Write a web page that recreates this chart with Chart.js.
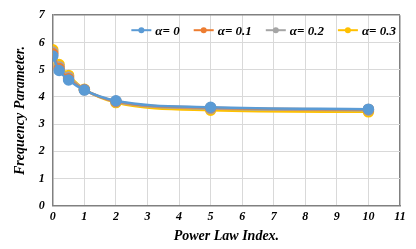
<!DOCTYPE html>
<html>
<head>
<meta charset="utf-8">
<script src="https://cdn.jsdelivr.net/npm/chart.js@4/dist/chart.umd.min.js"></script>
<style>
  html, body { margin: 0; padding: 0; background: #fff; }
  #wrap { width: 416px; height: 249px; }
</style>
</head>
<body>
<div id="wrap"><canvas id="chart" width="416" height="249"></canvas></div>
<script>
  /* ── Data ────────────────────────────────────────────────── */
  var powerIndex = [0, 0.2, 0.5, 1, 2, 5, 10];
  var alpha0  = [5.50, 4.97, 4.62, 4.25, 3.86, 3.62, 3.55];
  var alpha01 = [5.58, 5.04, 4.67, 4.26, 3.84, 3.60, 3.54];
  var alpha02 = [5.65, 5.11, 4.73, 4.27, 3.82, 3.57, 3.51];
  var alpha03 = [5.73, 5.19, 4.79, 4.28, 3.79, 3.51, 3.45];
  var seriesLabels = ['\u03b1= 0', '\u03b1= 0.1', '\u03b1= 0.2', '\u03b1= 0.3'];
  var seriesColors = ['#5B9BD5', '#ED7D31', '#A5A5A5', '#FFC000'];

  var FONT = "'Liberation Serif', 'Times New Roman', serif";
  var LEGEND_FONT = 'italic bold 13px ' + FONT;

  function pts(ys) {
    return powerIndex.map(function (x, i) { return { x: x, y: ys[i] }; });
  }

  var allSeries = [alpha0, alpha01, alpha02, alpha03];
  var datasets = allSeries.map(function (s, i) {
    return {
      label: seriesLabels[i],
      data: pts(s),
      borderColor: seriesColors[i],
      backgroundColor: seriesColors[i],
      borderWidth: 2.5,
      pointRadius: 4.5,
      pointHoverRadius: 4.5,
      cubicInterpolationMode: 'monotone',
      fill: false
    };
  });

  /* ── Legend drawn inside the plot, one row, right aligned ── */
  var insideLegend = {
    id: 'insideLegend',
    afterDraw: function (chart) {
      var ctx = chart.ctx, area = chart.chartArea;
      var lineW = 20, gap = 4, itemGap = 14;
      ctx.save();
      ctx.font = LEGEND_FONT;
      var widths = chart.data.datasets.map(function (d) {
        return lineW + gap + ctx.measureText(d.label).width;
      });
      var total = widths.reduce(function (a, b) { return a + b; }, 0) + itemGap * (widths.length - 1);
      var x = area.right - 4 - total;
      var y = area.top + 15;
      chart.data.datasets.forEach(function (d, i) {
        ctx.strokeStyle = d.borderColor;
        ctx.lineWidth = 2;
        ctx.beginPath(); ctx.moveTo(x, y); ctx.lineTo(x + lineW, y); ctx.stroke();
        ctx.fillStyle = d.borderColor;
        ctx.beginPath(); ctx.arc(x + lineW / 2, y, 3, 0, Math.PI * 2); ctx.fill();
        ctx.fillStyle = '#000';
        ctx.textBaseline = 'middle';
        ctx.fillText(d.label, x + lineW + gap, y + 1);
        x += widths[i] + itemGap;
      });
      ctx.restore();
    }
  };

  var axisDark = '#808080';
  var gridLight = '#d9d9d9';

  new Chart(document.getElementById('chart'), {
    type: 'line',
    data: { datasets: datasets },
    plugins: [insideLegend],
    options: {
      responsive: false,
      animation: false,
      layout: { padding: { left: 12, right: 16, top: 7, bottom: 4 } },
      plugins: {
        tooltip: { enabled: false },
        legend: { display: false }
      },
      scales: {
        x: {
          type: 'linear',
          min: 0, max: 11,
          ticks: {
            stepSize: 1,
            color: '#000',
            padding: 4,
            font: { family: FONT, size: 12, weight: 'bold', style: 'italic' }
          },
          grid: {
            color: function (ctx) { return ctx.tick && ctx.tick.value === 11 ? axisDark : gridLight; },
            lineWidth: function (ctx) { return ctx.tick && ctx.tick.value === 11 ? 1.5 : 1; },
            drawTicks: false
          },
          border: { color: axisDark, width: 1.5 },
          title: {
            display: true,
            text: 'Power Law Index.',
            color: '#000',
            padding: { top: 0, bottom: 0 },
            font: { family: FONT, size: 14, weight: 'bold', style: 'italic' }
          }
        },
        y: {
          min: 0, max: 7,
          ticks: {
            stepSize: 1,
            color: '#000',
            padding: 8,
            font: { family: FONT, size: 12, weight: 'bold', style: 'italic' }
          },
          grid: {
            color: function (ctx) { return ctx.tick && ctx.tick.value === 7 ? axisDark : gridLight; },
            lineWidth: function (ctx) { return ctx.tick && ctx.tick.value === 7 ? 1.5 : 1; },
            drawTicks: false
          },
          border: { color: axisDark, width: 1.5 },
          title: {
            display: true,
            text: 'Frequency Parameter.',
            color: '#000',
            padding: { top: 0, bottom: 2 },
            font: { family: FONT, size: 14, weight: 'bold', style: 'italic' }
          }
        }
      }
    }
  });
</script>
</body>
</html>
